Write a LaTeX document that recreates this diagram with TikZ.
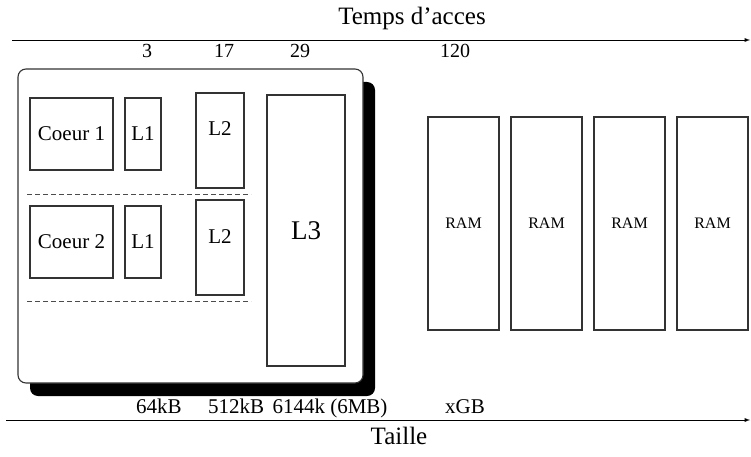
\documentclass[tikz,border=0pt]{standalone}
\usepackage{fontspec}
\setmainfont{Liberation Serif}
\usetikzlibrary{positioning,shadows}
\tikzset{gbox/.style={
    rectangle,
    draw=black!80,
    line width=1.1pt,
    inner sep=0pt,
    outer sep=0pt,
    fill=white
  },
  corebox/.style={gbox,minimum width=83pt,minimum height=72pt,font=\fontsize{21}{21}\selectfont},
  lonebox/.style={gbox,minimum width=36pt,minimum height=72pt,font=\fontsize{21}{21}\selectfont},
  ltwobox/.style={gbox,minimum width=48pt,text height=43pt,text depth=52pt,font=\fontsize{21}{21}\selectfont},
  lthreebox/.style={gbox,minimum width=78pt,minimum height=271pt,font=\fontsize{27}{27}\selectfont},
  rambox/.style={gbox,minimum width=71pt,minimum height=213pt,font=\fontsize{16}{16}\selectfont},
  chipbox/.style={gbox,rounded corners=8pt,minimum width=345pt,minimum height=314pt,
    drop shadow={shadow xshift=12pt,shadow yshift=-13pt,fill=black,opacity=1}},
  axisline/.style={line width=0.9pt,-latex},
  axislabel/.style={anchor=base,font=\fontsize{25}{25}\selectfont},
  toplabel/.style={anchor=base,font=\fontsize{20}{20}\selectfont},
  botlabel/.style={anchor=base,font=\fontsize{21}{21}\selectfont},
  sepline/.style={draw=black!70,line width=1pt,dash pattern=on 5pt off 3pt},
}
\begin{document}
\begin{tikzpicture}[x=1pt,y=-1pt]
  \useasboundingbox (0,0) rectangle (751,457);
  % axe du temps d'acces
  \node [axislabel] (temps) at (412,25) {Temps d'acces};
  \coordinate (tstart) at (12,40);
  \coordinate (tend) at (750,40);
  \draw[axisline] (tstart) -- (tend);
  \node [toplabel] (t3) at (147,58) {3};
  \node [toplabel] (t17) at (224,58) {17};
  \node [toplabel] (t29) at (300,58) {29};
  \node [toplabel] (t120) at (455,58) {120};
  % processeur
  \node [chipbox] (chip) at (190.5,226) {};
  \node [corebox] (coeur1) at (71.5,134) {Coeur 1};
  \node [lonebox,right=12pt of coeur1] (l1a) {L1};
  \node [corebox,below=36pt of coeur1] (coeur2) {Coeur 2};
  \node [lonebox,right=12pt of coeur2] (l1b) {L1};
  \node [ltwobox] (l2a) at (220,140.5) {L2};
  \node [ltwobox] (l2b) at (220,247.5) {L2};
  \node [lthreebox] (l3) at (306,230.5) {L3};
  \draw[sepline] (27,194) -- (251,194);
  \draw[sepline] (27,301) -- (251,301);
  % memoire
  \node [rambox] (ram1) at (463.5,223.5) {RAM};
  \node [rambox,right=12pt of ram1] (ram2) {RAM};
  \node [rambox,right=12pt of ram2] (ram3) {RAM};
  \node [rambox,right=12pt of ram3] (ram4) {RAM};
  % axe de la taille
  \node [botlabel] (s64) at (159,413) {64kB};
  \node [botlabel] (s512) at (236,413) {512kB};
  \node [botlabel] (s6144) at (330,413) {6144k (6MB)};
  \node [botlabel] (sxgb) at (465,413) {xGB};
  \coordinate (sstart) at (6,420);
  \coordinate (send) at (750,420);
  \draw[axisline] (sstart) -- (send);
  \node [axislabel] (taille) at (399,444) {Taille};
\end{tikzpicture}
\end{document}
